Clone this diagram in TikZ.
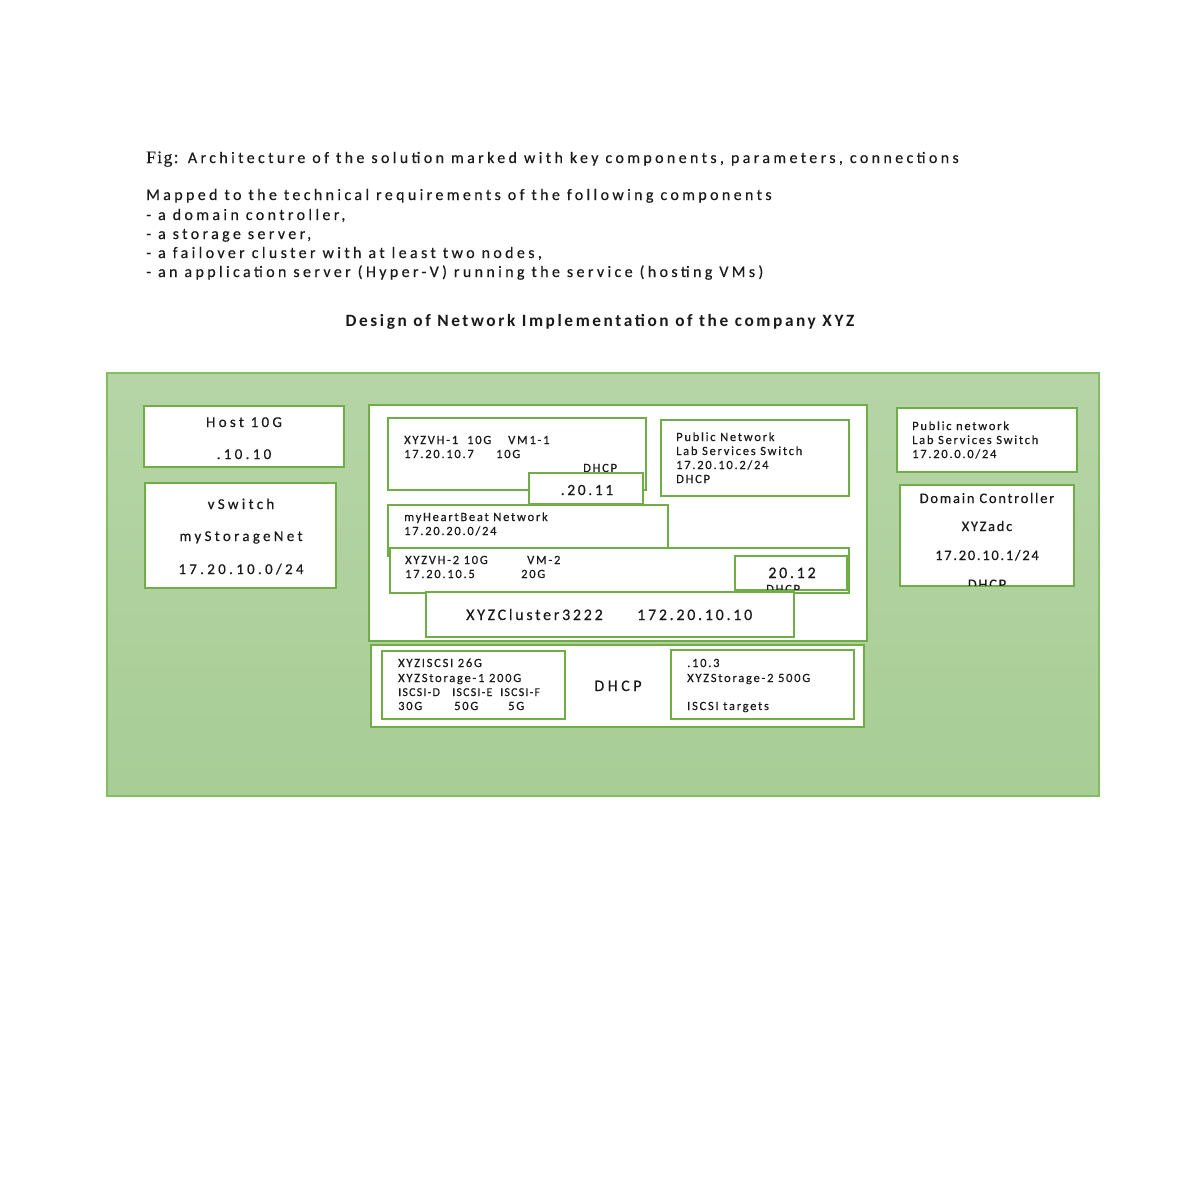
\documentclass[tikz,border=0pt]{standalone}
\usepackage{fontspec}
\setmainfont{Carlito}[LetterSpace=14,FakeBold=0.4]
\newfontfamily\figfont{Liberation Serif}[LetterSpace=8,FakeBold=0.3]
\newfontfamily\topfont{Carlito}[LetterSpace=21,FakeBold=0.4]
\newfontfamily\headfont{Carlito}[LetterSpace=15]
\newfontfamily\bigfont{Carlito}[LetterSpace=22,FakeBold=0.4]
\newfontfamily\clfont{Carlito}[LetterSpace=17,FakeBold=0.4]
\newfontfamily\dcfont{Carlito}[LetterSpace=12,FakeBold=0.4]
\newfontfamily\narrowfont{Carlito}[LetterSpace=10,FakeBold=0.4]
\definecolor{bgreen}{HTML}{70AD47}
\definecolor{obord}{HTML}{84BC66}
\definecolor{bgtop}{HTML}{B6D5A7}
\definecolor{bgbot}{HTML}{A8CD95}
\definecolor{txt}{HTML}{1A1A1A}
\tikzset{
  wbox/.style={draw=bgreen,line width=2pt,fill=white},
  lab/.style={anchor=base west,inner sep=0pt,text=txt,font=\fontsize{12.5}{14}\selectfont},
  biglab/.style={anchor=base,inner sep=0pt,text=txt,font=\bigfont\fontsize{15}{17}\selectfont},
  toplab/.style={anchor=base west,inner sep=0pt,text=txt,font=\topfont\fontsize{16}{19}\selectfont},
}
\begin{document}
\begin{tikzpicture}[x=1pt,y=-1pt]
\useasboundingbox (0,0) rectangle (1200,1200);
% header text
\node[toplab] (fig) at (146,163) {{\figfont\fontsize{17.5}{19}\selectfont Fig:} Architecture of the solution marked with key components, parameters, connections};
\node[toplab] (map) at (146,200) {Mapped to the technical requirements of the following components};
\node[toplab] (r1) at (146,220) {- a domain controller,};
\node[toplab] (r2) at (146,239) {- a storage server,};
\node[toplab] (r3) at (146,258) {- a failover cluster with at least two nodes,};
\node[toplab] (r4) at (146,277) {- an application server (Hyper-V) running the service (hosting VMs)};
\node[anchor=base,inner sep=0pt,text=txt,font=\headfont\fontsize{17.3}{19}\selectfont\bfseries] (head) at (600,326) {Design of Network Implementation of the company XYZ};
% background
\path[draw=obord,line width=1.5pt,top color=bgtop,bottom color=bgbot] (107,373) rectangle (1099,796);
% left boxes
\path[wbox] (144,406) rectangle (344,467);
\node[biglab] (host) at (244,427) {Host 10G};
\node[biglab] (hostip) at (244,459) {.10.10};
\path[wbox] (145,483) rectangle (336,588);
\node[biglab] (vsw) at (241,509) {vSwitch};
\node[biglab] (vswn) at (241,541) {myStorageNet};
\node[biglab] (vswip) at (241,574) {17.20.10.0/24};
% middle container
\path[wbox] (369,405) rectangle (867,641);
% XYZVH-1
\path[wbox] (388,418) rectangle (646,490);
\node[lab] (vh1a) at (404,444) {XYZVH-1};
\node[lab] (vh1b) at (467,444) {10G};
\node[lab] (vh1c) at (508,444) {VM1-1};
\node[lab] (vh1d) at (404,458) {17.20.10.7};
\node[lab] (vh1e) at (496,458) {10G};
\node[lab] (vh1f) at (583,472) {DHCP};
\path[wbox] (529,473) rectangle (643,504);
\node[biglab,font=\clfont\fontsize{15.5}{18}\selectfont] (ip2011) at (587,495) {.20.11};
% public network
\path[wbox] (661,420) rectangle (849,496);
\node[lab] (pn1) at (676,441) {Public Network};
\node[lab] (pn2) at (676,455) {Lab Services Switch};
\node[lab] (pn3) at (676,469) {17.20.10.2/24};
\node[lab] (pn4) at (676,483) {DHCP};
% heartbeat
\path[wbox] (388,505) rectangle (668,556);
\node[lab] (hb1) at (404,521) {myHeartBeat Network};
\node[lab] (hb2) at (404,535) {17.20.20.0/24};
% XYZVH-2
\path[wbox] (390,548) rectangle (849,593);
\node[lab] (vh2a) at (405,564) {XYZVH-2 10G};
\node[lab] (vh2b) at (527,564) {VM-2};
\node[lab] (vh2c) at (405,578) {17.20.10.5};
\node[lab] (vh2d) at (521,578) {20G};
\path[wbox] (735,556) rectangle (847,590);
\node[biglab,font=\clfont\fontsize{16}{18}\selectfont] (ip2012) at (792,578) {20.12};
\begin{scope}
\clip (736,557) rectangle (846,589);
\node[lab] (dh2012) at (766,593) {DHCP};
\end{scope}
% cluster
\path[wbox] (426,592) rectangle (794,637);
\node[toplab,font=\clfont\fontsize{16}{19}\selectfont] (cl1) at (466,620) {XYZCluster3222};
\node[toplab,font=\clfont\fontsize{16}{19}\selectfont] (cl2) at (637,620) {172.20.10.10};
% storage container
\path[wbox] (371,645) rectangle (864,727);
\path[wbox] (382,651) rectangle (565,719);
\node[lab] (s1) at (398,667) {XYZISCSI 26G};
\node[lab] (s2) at (398,682) {XYZStorage-1 200G};
\node[lab,font=\narrowfont\fontsize{12}{14}\selectfont] (s3) at (398,696) {ISCSI-D};
\node[lab,font=\narrowfont\fontsize{12}{14}\selectfont] (s4) at (452,696) {ISCSI-E};
\node[lab,font=\narrowfont\fontsize{12}{14}\selectfont] (s5) at (500,696) {ISCSI-F};
\node[lab] (s6) at (398,710) {30G};
\node[lab] (s7) at (454,710) {50G};
\node[lab] (s8) at (508,710) {5G};
\node[biglab,font=\bigfont\fontsize{16}{18}\selectfont] (sdhcp) at (618,691) {DHCP};
\path[wbox] (671,650) rectangle (854,719);
\node[lab] (t1) at (687,667) {.10.3};
\node[lab] (t2) at (687,682) {XYZStorage-2 500G};
\node[lab] (t3) at (687,710) {ISCSI targets};
% right boxes
\path[wbox] (897,408) rectangle (1077,472);
\node[lab] (rp1) at (912,430) {Public network};
\node[lab] (rp2) at (912,444) {Lab Services Switch};
\node[lab] (rp3) at (912,458) {17.20.0.0/24};
\path[wbox] (900,485) rectangle (1074,586);
\node[biglab,font=\dcfont\fontsize{14.5}{17}\selectfont] (dc1) at (987,503) {Domain Controller};
\node[biglab,font=\dcfont\fontsize{14.5}{17}\selectfont] (dc2) at (987,531) {XYZadc};
\node[biglab,font=\dcfont\fontsize{14.5}{17}\selectfont] (dc3) at (987,560) {17.20.10.1/24};
\begin{scope}
\clip (901,486) rectangle (1073,585);
\node[biglab,font=\dcfont\fontsize{14.5}{17}\selectfont] (dc4) at (987,589) {DHCP};
\end{scope}
\end{tikzpicture}
\end{document}
